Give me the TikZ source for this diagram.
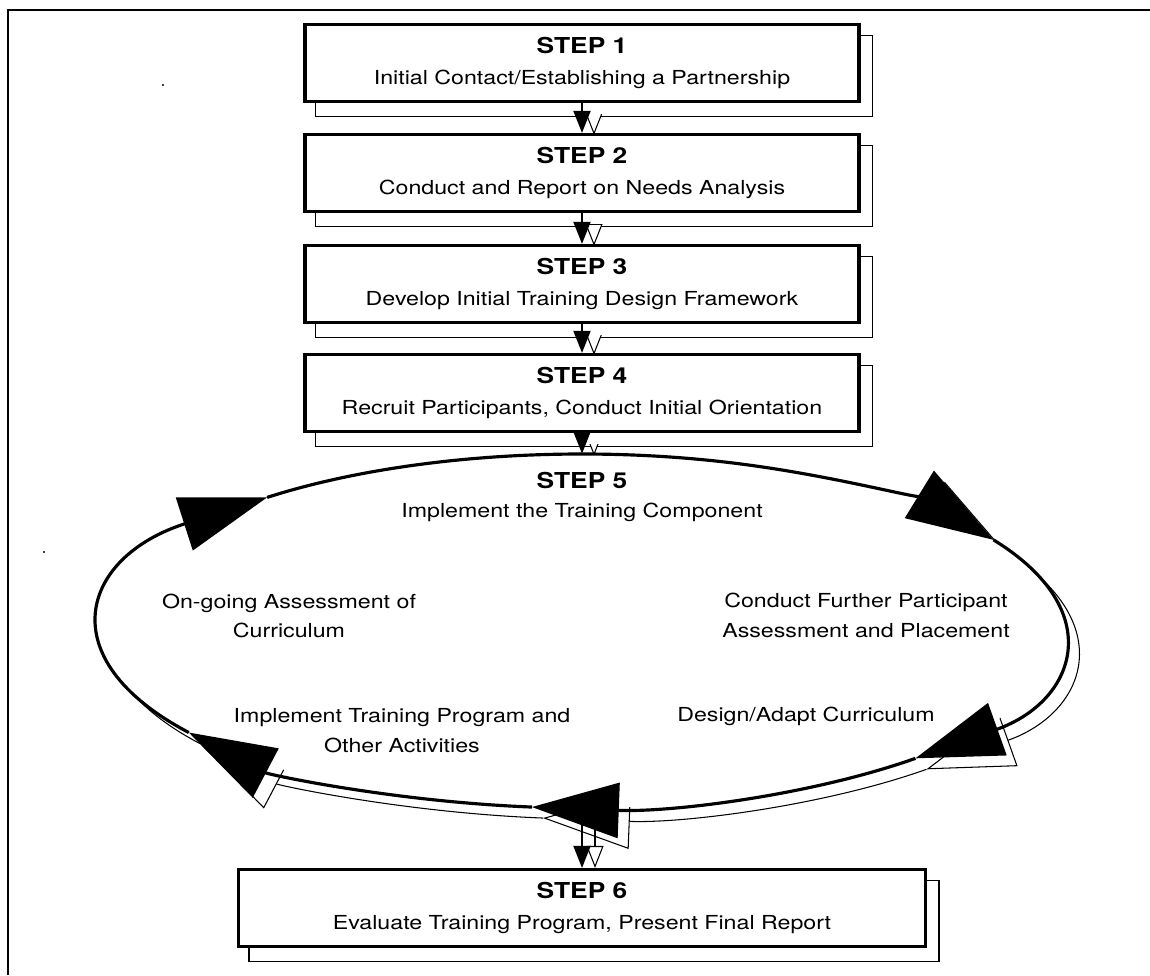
\documentclass[tikz,border=0pt]{standalone}
\usepackage{fontspec}
\setmainfont{TeX Gyre Heros}[FakeStretch=1.2]
\usetikzlibrary{arrows.meta, shapes.geometric, backgrounds, calc}

\newcommand{\boxfont}{\fontsize{11}{18}\selectfont}
\newcommand{\headfont}{\fontsize{12.5}{18}\selectfont\bfseries}
\newcommand{\labelfont}{\fontsize{11}{17}\selectfont}

\begin{document}
\begin{tikzpicture}[x=0.02cm, y=-0.02cm,
    stepbox/.style={draw, line width=1.8pt, fill=white, minimum width=11.08cm,
      minimum height=1.54cm, align=center, font=\boxfont},
    looplabel/.style={align=center, font=\labelfont},
    stepflow/.style={line width=1.1pt, -{Triangle[length=0.44cm, width=0.34cm]}},
    shadowline/.style={line width=0.6pt},
    shadowflow/.style={line width=0.6pt, -{Triangle[open, fill=white, length=0.44cm, width=0.34cm]}},
    cycleline/.style={line width=1.8pt, -{Triangle[length=1.74cm, width=1.1cm]}},
    cycleshadow/.style={line width=0.6pt, -{Triangle[open, fill=white, length=1.74cm, width=1.1cm]}}]
    \useasboundingbox (0,0) rectangle (1150,975);

    % Frame of the page
    \draw[line width=1.6pt] (8,975) -- (8,10) -- (1150,10);
    \fill (163,85) circle (1.2);
    \fill (44,552) circle (1.2);

    % The step boxes
    \node[stepbox] (s1) at (582,63) {{\headfont STEP 1}\\Initial Contact/Establishing a Partnership};
    \node[stepbox] (s2) at (582,173) {{\headfont STEP 2}\\Conduct and Report on Needs Analysis};
    \node[stepbox] (s3) at (582,284) {{\headfont STEP 3}\\Develop Initial Training Design Framework};
    \node[stepbox] (s4) at (582,393) {{\headfont STEP 4}\\Recruit Participants, Conduct Initial Orientation};
    \node[stepbox, minimum width=13.74cm] (s6) at (582,908) {{\headfont STEP 6}\\Evaluate Training Program, Present Final Report};

    % The training cycle
    \node[ellipse, fill=white, minimum width=19.2cm, minimum height=7.08cm, inner sep=0pt] (cyc) at (582,631) {};
    \draw[cycleline] ($(cyc.center)+(329:480 and 177)$) arc[start angle=329, end angle=406, x radius=480, y radius=177];
    \draw[cycleline] ($(cyc.center)+(46:480 and 177)$) arc[start angle=46, end angle=96, x radius=480, y radius=177];
    \draw[cycleline] ($(cyc.center)+(96:480 and 177)$) arc[start angle=96, end angle=145, x radius=480, y radius=177];
    \draw[cycleline] ($(cyc.center)+(145:480 and 177)$) arc[start angle=145, end angle=229, x radius=480, y radius=177];
    \draw[cycleline] ($(cyc.center)+(229:480 and 177)$) arc[start angle=229, end angle=329, x radius=480, y radius=177];

    % Labels inside the cycle
    \node[looplabel] (s5) at (582,497) {{\headfont STEP 5}\\Implement the Training Component};
    \node[looplabel] (ongoing) at (289,616) {On-going Assessment of\\Curriculum};
    \node[looplabel] (further) at (866,615) {Conduct Further Participant\\Assessment and Placement};
    \node[looplabel] (implement) at (402,731) {Implement Training Program and\\Other Activities};
    \node[looplabel] (adapt) at (806,716) {Design/Adapt Curriculum};

    % Arrows between the steps
    \draw[stepflow] (s1.south) -- (s2.north);
    \draw[stepflow] (s2.south) -- (s3.north);
    \draw[stepflow] (s3.south) -- (s4.north);
    \draw[stepflow] (s4.south) -- (cyc.north);
    \draw[stepflow] (cyc.south) -- (s6.north);

    % Shadows behind everything
    \begin{scope}[on background layer]
      \draw[shadowline] ($(s1.north west)+(12,13)$) rectangle ($(s1.south east)+(12,13)$);
      \draw[shadowline] ($(s2.north west)+(12,13)$) rectangle ($(s2.south east)+(12,13)$);
      \draw[shadowline] ($(s3.north west)+(12,13)$) rectangle ($(s3.south east)+(12,13)$);
      \draw[shadowline] ($(s4.north west)+(12,13)$) rectangle ($(s4.south east)+(12,13)$);
      \draw[shadowline] ($(s6.north west)+(12,13)$) rectangle ($(s6.south east)+(12,13)$);
      \draw[shadowflow] ($(s1.south)+(12,2)$) -- ($(s2.north)+(12,2)$);
      \draw[shadowflow] ($(s2.south)+(12,2)$) -- ($(s3.north)+(12,2)$);
      \draw[shadowflow] ($(s3.south)+(12,2)$) -- ($(s4.north)+(12,2)$);
      \draw[shadowflow] ($(s4.south)+(12,2)$) -- ($(cyc.north)+(12,2)$);
      \fill[white] ($(s1.north west)+(14,15)$) rectangle ($(s1.south east)+(10,11)$);
      \fill[white] ($(s2.north west)+(14,15)$) rectangle ($(s2.south east)+(10,11)$);
      \fill[white] ($(s3.north west)+(14,15)$) rectangle ($(s3.south east)+(10,11)$);
      \fill[white] ($(s4.north west)+(14,15)$) rectangle ($(s4.south east)+(10,11)$);
      \coordinate (cycshadow) at ($(cyc.center)+(11,11)$);
      \draw[cycleshadow] ($(cycshadow)+(329:480 and 177)$) arc[start angle=329, end angle=406, x radius=480, y radius=177];
      \draw[cycleshadow] ($(cycshadow)+(46:480 and 177)$) arc[start angle=46, end angle=96, x radius=480, y radius=177];
      \draw[cycleshadow] ($(cycshadow)+(96:480 and 177)$) arc[start angle=96, end angle=145, x radius=480, y radius=177];
      \draw[cycleshadow] ($(cycshadow)+(145:480 and 177)$) arc[start angle=145, end angle=229, x radius=480, y radius=177];
      \draw[cycleshadow] ($(cycshadow)+(229:480 and 177)$) arc[start angle=229, end angle=329, x radius=480, y radius=177];
      \draw[shadowflow] ($(cyc.south)+(13,0)$) -- ($(s6.north)+(13,0)$);
    \end{scope}
\end{tikzpicture}
\end{document}
